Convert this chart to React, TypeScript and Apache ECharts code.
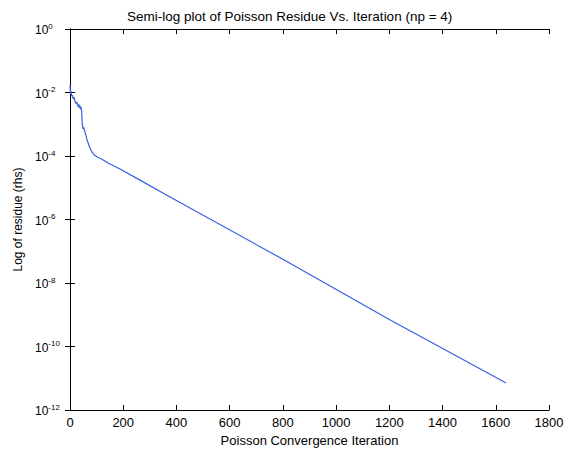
import React, { useEffect, useRef } from "react";
import * as echarts from "echarts";

const iterations = [0, 2, 4, 6, 9, 12, 15, 18, 22, 26, 30, 33, 36, 38, 40, 42, 44, 46, 49, 52, 56, 60, 64, 68, 75, 83, 92, 102, 120, 143, 188, 263, 376, 800, 1200, 1639];
const residues = [1.7e-2, 8.9e-3, 1.12e-2, 7.6e-3, 8.3e-3, 6.3e-3, 7.1e-3, 5.6e-3, 4.5e-3, 5.0e-3, 3.6e-3, 4.2e-3, 3.2e-3, 3.9e-3, 3.0e-3, 3.4e-3, 2.5e-3, 1.0e-3, 7.1e-4, 8.0e-4, 5.6e-4, 4.5e-4, 3.2e-4, 2.6e-4, 1.78e-4, 1.32e-4, 1.07e-4, 9.3e-5, 7.9e-5, 6.0e-5, 3.9e-5, 1.74e-5, 5.1e-6, 5.6e-8, 7.1e-10, 7.1e-12];
const xTicks = [0, 200, 400, 600, 800, 1000, 1200, 1400, 1600, 1800];
const yTicks = [1, 1e-2, 1e-4, 1e-6, 1e-8, 1e-10, 1e-12];

const FONT = "'Liberation Sans', Arial, sans-serif";

export default function App() {
  const ref = useRef<HTMLDivElement>(null);
  useEffect(() => {
    if (!ref.current) return;
    const chart = echarts.init(ref.current, undefined, { renderer: "svg" });
    const axisLine = { show: true, lineStyle: { color: "#000", width: 1 } };
    const axisTick = { show: true, inside: true, length: 5, lineStyle: { color: "#000" } };
    const xCommon = {
      type: "value" as const,
      min: xTicks[0],
      max: xTicks[xTicks.length - 1],
      interval: 200,
      axisLine,
      axisTick,
      splitLine: { show: false },
    };
    const yCommon = {
      type: "log" as const,
      logBase: 10,
      min: yTicks[yTicks.length - 1],
      max: yTicks[0],
      interval: 2,
      axisLine,
      axisTick,
      splitLine: { show: false },
      minorTick: { show: false },
    };
    chart.setOption({
      animation: false,
      backgroundColor: "#fff",
      textStyle: { fontFamily: FONT },
      title: {
        text: "Semi-log plot of Poisson Residue Vs. Iteration (np = 4)",
        left: 122,
        top: 4,
        textStyle: { fontSize: 13.5, fontWeight: "normal", color: "#000", fontFamily: FONT },
      },
      grid: { left: 70, right: 21, top: 29, bottom: 43 },
      xAxis: [
        {
          ...xCommon,
          position: "bottom",
          axisLabel: { color: "#000", fontSize: 13, margin: 6, fontFamily: FONT, formatter: (v: number) => String(v) },
          name: "Poisson Convergence Iteration",
          nameLocation: "middle",
          nameGap: 23,
          nameTextStyle: { color: "#000", fontSize: 13, fontFamily: FONT },
        },
        { ...xCommon, position: "top", axisLabel: { show: false } },
      ],
      yAxis: [
        {
          ...yCommon,
          position: "left",
          axisLabel: {
            color: "#000",
            align: "left",
            margin: 35,
            formatter: (v: number) => `{b|10}{s|${Math.round(Math.log10(v))}}`,
            rich: {
              b: { fontSize: 12, fontFamily: FONT, color: "#000", verticalAlign: "bottom", lineHeight: 14 },
              s: { fontSize: 8, fontFamily: FONT, color: "#000", verticalAlign: "top", lineHeight: 14, padding: [0, 0, 6, 0] },
            },
          },
          name: "Log of residue (rhs)",
          nameLocation: "middle",
          nameGap: 44,
          nameTextStyle: { color: "#000", fontSize: 12, fontFamily: FONT },
        },
        { ...yCommon, position: "right", axisLabel: { show: false } },
      ],
      series: [
        {
          type: "line",
          xAxisIndex: 0,
          yAxisIndex: 0,
          showSymbol: false,
          lineStyle: { color: "#3a5ee0", width: 1.2 },
          data: iterations.map((it, i) => [it, residues[i]]),
        },
      ],
    });
    return () => chart.dispose();
  }, []);
  return <div ref={ref} style={{ position: "fixed", left: 0, top: 0, width: 570, height: 453 }} />;
}
